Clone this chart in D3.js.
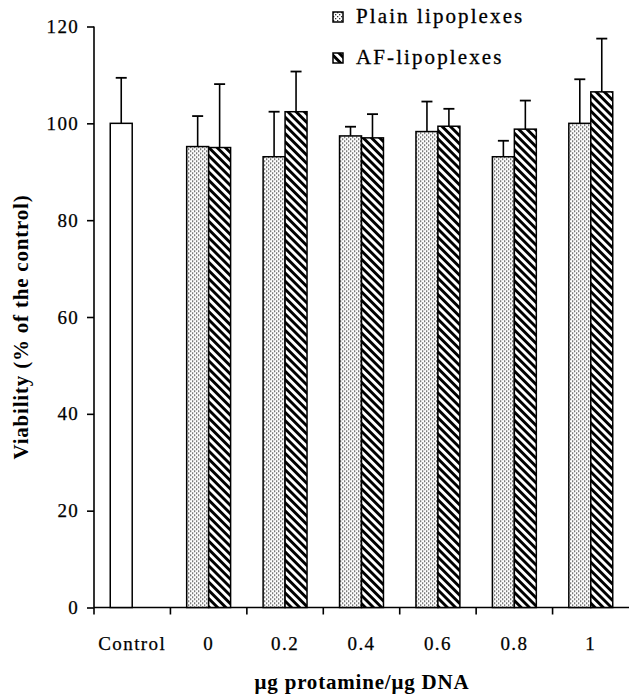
<!DOCTYPE html>
<html>
<head>
<meta charset="utf-8">
<script src="https://cdn.jsdelivr.net/npm/d3@7"></script>
</head>
<body style="margin:0; background:#fff">
<div id="chart"></div>
<script>
// data
var categories = ["Control", "0", "0.2", "0.4", "0.6", "0.8", "1"];
var controlValue = 100;
var controlErr = 9.4;
var doses = ["0", "0.2", "0.4", "0.6", "0.8", "1"];
var plainValues = [95.2, 93.1, 97.4, 98.3, 93.1, 100.0];
var plainErr = [6.3, 9.3, 1.9, 6.2, 3.3, 9.1];
var afValues = [95.0, 102.4, 97.0, 99.4, 98.8, 106.5];
var afErr = [13.1, 8.3, 4.9, 3.6, 5.9, 11.0];
var yTicks = [0, 20, 40, 60, 80, 100, 120];
var seriesNames = ["Plain lipoplexes", "AF-lipoplexes"];

var FONT = "Liberation Serif";
var W = 629, H = 695;
var margin = {top: 26.5, right: 0, bottom: 87.5, left: 94};
var width = W - margin.left - margin.right;
var height = H - margin.top - margin.bottom;

var svg = d3.select("#chart").append("svg")
    .attr("width", W)
    .attr("height", H)
    .attr("font-family", FONT);

var defs = svg.append("defs");

// dotted fill for plain lipoplexes
var dots = defs.append("pattern")
    .attr("id", "dots")
    .attr("patternUnits", "userSpaceOnUse")
    .attr("width", 4).attr("height", 4);
dots.append("rect").attr("width", 4).attr("height", 4).attr("fill", "#fff");
dots.append("rect").attr("x", 0).attr("y", 0).attr("width", 1.3).attr("height", 1.3).attr("fill", "#333");
dots.append("rect").attr("x", 2).attr("y", 2).attr("width", 1.3).attr("height", 1.3).attr("fill", "#333");

// diagonal stripes for AF-lipoplexes
var stripes = defs.append("pattern")
    .attr("id", "stripes")
    .attr("patternUnits", "userSpaceOnUse")
    .attr("width", 5.8).attr("height", 8)
    .attr("patternTransform", "rotate(-45)");
stripes.append("rect").attr("width", 5.8).attr("height", 8).attr("fill", "#fff");
stripes.append("rect").attr("x", 0).attr("width", 2.9).attr("height", 8).attr("fill", "#000");

var g = svg.append("g")
    .attr("transform", "translate(" + margin.left + "," + margin.top + ")");

var x = d3.scaleBand()
    .domain(categories)
    .range([0, width])
    .padding(0);

var x1 = d3.scaleBand()
    .domain(["plain", "af"])
    .range([0, x.bandwidth()])
    .paddingInner(0)
    .paddingOuter(0.74);

var y = d3.scaleLinear()
    .domain([0, 120])
    .range([height, 0]);

// y axis
var yAxis = d3.axisLeft(y).tickValues(yTicks).tickSize(7).tickPadding(8);
var yg = g.append("g").call(yAxis).attr("font-family", FONT).attr("font-size", 19);
yg.select(".domain").attr("d", "M0," + y(120) + "V" + y(0)).attr("stroke-width", 1.6);
yg.selectAll(".tick line").attr("stroke-width", 1.6);
yg.selectAll(".tick text")
    .style("font-family", FONT)
    .style("font-size", "19px")
    .style("letter-spacing", "1.3px")
    .attr("fill", "#000")
    .attr("stroke", "#000").attr("stroke-width", 0.25);

// x axis: ticks at band edges
var xg = g.append("g").attr("transform", "translate(0," + height + ")");
xg.append("line")
    .attr("x1", 0).attr("x2", width)
    .attr("stroke", "#000").attr("stroke-width", 1.6);
xg.selectAll(".xtick")
    .data(categories)
    .enter().append("line")
    .attr("x1", function(d){ return x(d); })
    .attr("x2", function(d){ return x(d); })
    .attr("y1", 0).attr("y2", 7)
    .attr("stroke", "#000").attr("stroke-width", 1.6);
xg.selectAll(".xlabel")
    .data(categories)
    .enter().append("text")
    .attr("x", function(d){ return x(d) + x.bandwidth() / 2; })
    .attr("y", 42.5)
    .attr("text-anchor", "middle")
    .attr("stroke", "#000").attr("stroke-width", 0.25)
    .style("font-family", FONT)
    .style("font-size", "19px")
    .style("letter-spacing", "1.4px")
    .text(function(d){ return d; });

// control bar
g.append("rect")
    .attr("x", x("Control") + x1("plain"))
    .attr("y", y(controlValue))
    .attr("width", x1.bandwidth())
    .attr("height", y(0) - y(controlValue))
    .attr("fill", "#fff")
    .attr("stroke", "#000")
    .attr("stroke-width", 1.5);

var bars = [];
doses.forEach(function(d, i){
  bars.push({cat: d, key: "plain", v: plainValues[i], e: plainErr[i]});
  bars.push({cat: d, key: "af", v: afValues[i], e: afErr[i]});
});

g.append("g").selectAll("rect")
    .data(bars)
    .enter().append("rect")
    .attr("x", function(d){ return x(d.cat) + x1(d.key); })
    .attr("y", function(d){ return y(d.v); })
    .attr("width", x1.bandwidth())
    .attr("height", function(d){ return y(0) - y(d.v); })
    .attr("fill", function(d){ return d.key == "plain" ? "url(#dots)" : "url(#stripes)"; })
    .attr("stroke", "#000")
    .attr("stroke-width", 1.5);

// error bars (upper only)
var errs = bars.slice();
errs.unshift({cat: "Control", key: "plain", v: controlValue, e: controlErr});
var eg = g.append("g").selectAll("g")
    .data(errs)
    .enter().append("g")
    .attr("transform", function(d){
      return "translate(" + (x(d.cat) + x1(d.key) + x1.bandwidth() / 2) + ",0)";
    });
eg.append("line")
    .attr("y1", function(d){ return y(d.v); })
    .attr("y2", function(d){ return y(d.v + d.e); })
    .attr("stroke", "#000").attr("stroke-width", 1.6);
eg.append("line")
    .attr("x1", -5.5).attr("x2", 5.5)
    .attr("y1", function(d){ return y(d.v + d.e); })
    .attr("y2", function(d){ return y(d.v + d.e); })
    .attr("stroke", "#000").attr("stroke-width", 1.8);

// axis titles
svg.append("text")
    .attr("x", 362)
    .attr("y", 689)
    .attr("text-anchor", "middle")
    .style("font-family", FONT)
    .style("font-size", "21px")
    .style("font-weight", "bold")
    .style("letter-spacing", "0.8px")
    .text("\u03bcg protamine/\u03bcg DNA");

svg.append("text")
    .attr("transform", "translate(28,327) rotate(-90)")
    .attr("text-anchor", "middle")
    .style("font-family", FONT)
    .style("font-size", "21px")
    .style("font-weight", "bold")
    .style("letter-spacing", "0.8px")
    .text("Viability (% of the control)");

// legend
var legend = svg.append("g").attr("transform", "translate(333,0)");
var legFill = ["url(#dots)", "url(#stripes)"];
seriesNames.forEach(function(name, i){
  var ly = 12 + i * 41;
  legend.append("rect")
      .attr("x", 0).attr("y", ly)
      .attr("width", 10).attr("height", 10)
      .attr("fill", legFill[i])
      .attr("stroke", "#000").attr("stroke-width", 1.5);
  legend.append("text")
      .attr("x", 23).attr("y", ly + 11)
      .attr("stroke", "#000").attr("stroke-width", 0.3)
      .style("font-family", FONT)
      .style("font-size", "21px")
      .style("letter-spacing", "2.1px")
      .text(name);
});
</script>
</body>
</html>
